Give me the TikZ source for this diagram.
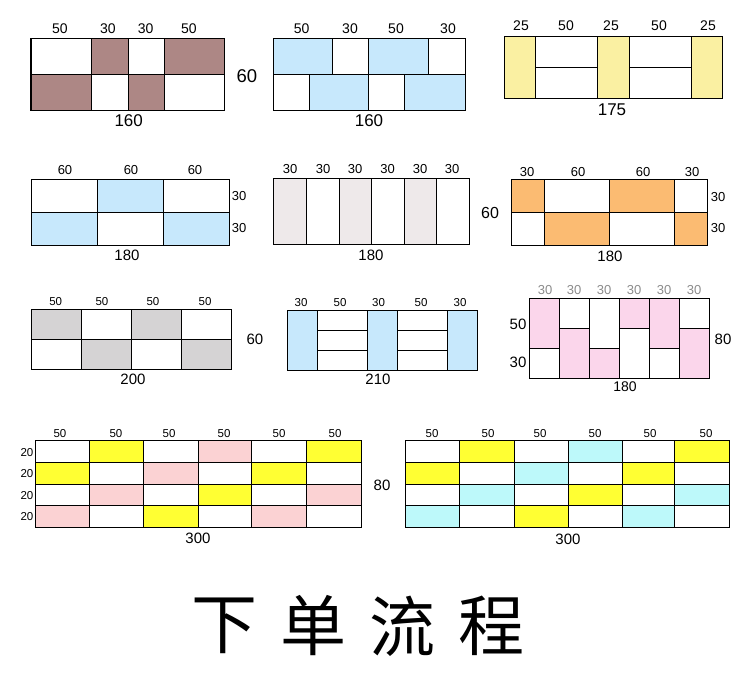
\documentclass[tikz,border=0pt]{standalone}
\usepackage{fontspec}
\setmainfont{Liberation Sans}
\newfontfamily\cjkfont{Noto Sans CJK SC}
\tikzset{
  x=1pt,y=-1pt,
  cellbox/.style={draw=black,line width=1.2pt,fill=white},
  lbl/.style={inner sep=0pt,text=black},
  sa/.style={lbl,font=\fontsize{14}{14}\selectfont},
  sb/.style={lbl,font=\fontsize{13}{13}\selectfont},
  sc/.style={lbl,font=\fontsize{11.5}{12}\selectfont},
  sd/.style={lbl,font=\fontsize{17}{17}\selectfont},
  sh/.style={lbl,font=\fontsize{16}{16}\selectfont},
  se/.style={lbl,font=\fontsize{15}{15}\selectfont},
  sf/.style={lbl,font=\fontsize{18.5}{18.5}\selectfont},
  sg/.style={lbl,font=\fontsize{13}{13}\selectfont,text=black!45},
}
\definecolor{cbrown}{HTML}{AD8785}
\definecolor{cblue}{HTML}{C7E8FC}
\definecolor{cpale}{HTML}{FAF0A2}
\definecolor{cmist}{HTML}{EEE9EA}
\definecolor{corange}{HTML}{FBBB72}
\definecolor{cgray}{HTML}{D5D3D4}
\definecolor{cpink}{HTML}{FBD6EB}
\definecolor{csalmon}{HTML}{FBD2D3}
\definecolor{cyell}{HTML}{FFFF33}
\definecolor{ccyan}{HTML}{BDF9FA}
% \Row{y1}{y2}{x0/x1/colour,...}
\newcommand{\Row}[3]{\foreach \xa/\xb/\cc in {#3}{\draw[cellbox,fill=\cc] (\xa,#1) rectangle (\xb,#2);}}
% \Labels{style}{y}{x/text,...}
\newcommand{\Labels}[3]{\foreach \xa/\tt in {#3}{\node[#1] at (\xa,#2) {\tt};}}
\begin{document}
\begin{tikzpicture}
\useasboundingbox[fill=white] (0,0) rectangle (750,683);
% grid 1
\Row{38.3}{74.3}{31/91.5/white,91.5/128.5/cbrown,128.5/164.5/white,164.5/224.5/cbrown}
\Row{74.3}{110.3}{31/91.5/cbrown,91.5/128.5/white,128.5/164.5/cbrown,164.5/224.5/white}
\Labels{sa}{28.3}{60/50,108/30,145.7/30,189/50}
\node[sd] at (128.7,121) {160};
\node[sf] at (247,76) {60};
% grid 2
\Row{38.3}{74.3}{273.5/332.5/cblue,332.5/368.5/white,368.5/428.5/cblue,428.5/465.5/white}
\Row{74.3}{110.3}{273.5/309.5/white,309.5/368.5/cblue,368.5/404.5/white,404.5/465.5/cblue}
\Labels{sa}{28.3}{301.7/50,350/30,396/50,448/30}
\node[sd] at (369,121) {160};
% grid 3
\Row{36.3}{98.3}{504.3/535.3/cpale,597.3/629.3/cpale,691.3/722.3/cpale}
\Row{36.3}{67.3}{535.3/597.3/white,629.3/691.3/white}
\Row{67.3}{98.3}{535.3/597.3/white,629.3/691.3/white}
\Labels{sa}{26}{521/25,566/50,611/25,659/50,708/25}
\node[sd] at (612,110) {175};
% grid 4
\Row{179.3}{212.3}{31.5/97.5/white,97.5/163.5/cblue,163.5/229.5/white}
\Row{212.3}{245.3}{31.5/97.5/cblue,97.5/163.5/white,163.5/229.5/cblue}
\Labels{sb}{170}{65/60,131/60,195/60}
\node[sb] at (239,196) {30};
\node[sb] at (239,228) {30};
\node[se] at (127,255) {180};
% grid 5
\Row{178.3}{244.3}{273.5/306.5/cmist,306.5/339.5/white,339.5/371.5/cmist,371.5/404.3/white,404.3/436.3/cmist,436.3/469.3/white}
\Labels{sb}{169}{290/30,323/30,355/30,387.5/30,420/30,452/30}
\node[se] at (371,255) {180};
% grid 6
\Row{179.3}{212.3}{511.3/544.3/corange,544.3/609.3/white,609.3/674.3/corange,674.3/707.3/white}
\Row{212.3}{245.3}{511.3/544.3/white,544.3/609.3/corange,609.3/674.3/white,674.3/707.3/corange}
\Labels{sb}{172}{527/30,578/60,643/60,692/30}
\node[sb] at (718,197) {30};
\node[sb] at (718,228) {30};
\node[sh] at (490,212.5) {60};
\node[se] at (610,256) {180};
% grid 7
\Row{309.3}{339.3}{31.3/81.3/cgray,81.3/131.3/white,131.3/181.5/cgray,181.5/231.5/white}
\Row{339.3}{369.3}{31.3/81.3/white,81.3/131.3/cgray,131.3/181.5/white,181.5/231.5/cgray}
\Labels{sc}{302}{55.7/50,102/50,153/50,205/50}
\node[se] at (255,339) {60};
\node[se] at (133,379) {200};
% grid 8
\Row{310.3}{370.3}{287.3/317.3/cblue,367.3/397.3/cblue,447.3/477.3/cblue}
\Row{310.3}{330.3}{317.3/367.3/white,397.3/447.3/white}
\Row{330.3}{350.3}{317.3/367.3/white,397.3/447.3/white}
\Row{350.3}{370.3}{317.3/367.3/white,397.3/447.3/white}
\Labels{sc}{303}{301/30,340/50,378.5/30,421/50,460/30}
\node[se] at (378,379) {210};
% grid 9
\Row{298.3}{348.3}{529.3/559.3/cpink,589.3/619.3/white,649.3/679.3/cpink}
\Row{348.3}{378.3}{529.3/559.3/white,589.3/619.3/cpink,649.3/679.3/white}
\Row{298.3}{328.3}{559.3/589.3/white,619.3/649.3/cpink,679.3/709.3/white}
\Row{328.3}{378.3}{559.3/589.3/cpink,619.3/649.3/white,679.3/709.3/cpink}
\Labels{sg}{290}{545/30,574/30,604/30,634/30,664/30,694/30}
\node[se] at (518,324) {50};
\node[se] at (518,362) {30};
\node[se] at (723,339) {80};
\node[sa] at (625,387) {180};
% grid 10
\Row{440.3}{462.3}{35.3/89.3/white,89.3/143.3/cyell,143.3/198.5/white,198.5/251.5/csalmon,251.5/306.3/white,306.3/361.5/cyell}
\Row{462.3}{484.3}{35.3/89.3/cyell,89.3/143.3/white,143.3/198.5/csalmon,198.5/251.5/white,251.5/306.3/cyell,306.3/361.5/white}
\Row{484.3}{505.3}{35.3/89.3/white,89.3/143.3/csalmon,143.3/198.5/white,198.5/251.5/cyell,251.5/306.3/white,306.3/361.5/csalmon}
\Row{505.3}{527.3}{35.3/89.3/csalmon,89.3/143.3/white,143.3/198.5/cyell,198.5/251.5/white,251.5/306.3/csalmon,306.3/361.5/white}
\Labels{sc}{433.7}{60/50,116/50,169/50,224/50,279/50,335/50}
\node[sc] at (27,452.7) {20};
\node[sc] at (27,474) {20};
\node[sc] at (27,496) {20};
\node[sc] at (27,517) {20};
\node[se] at (198,538.7) {300};
\node[se] at (382,485.7) {80};
% grid 11
\Row{440.3}{462.3}{405.3/459.3/white,459.3/514.3/cyell,514.3/568.3/white,568.3/622.3/ccyan,622.3/674.3/white,674.3/729.3/cyell}
\Row{462.3}{484.3}{405.3/459.3/cyell,459.3/514.3/white,514.3/568.3/ccyan,568.3/622.3/white,622.3/674.3/cyell,674.3/729.3/white}
\Row{484.3}{505.3}{405.3/459.3/white,459.3/514.3/ccyan,514.3/568.3/white,568.3/622.3/cyell,622.3/674.3/white,674.3/729.3/ccyan}
\Row{505.3}{527.3}{405.3/459.3/ccyan,459.3/514.3/white,514.3/568.3/cyell,568.3/622.3/white,622.3/674.3/ccyan,674.3/729.3/white}
\Labels{sc}{433.7}{432/50,488/50,540/50,595/50,650/50,706/50}
\node[se] at (568,539) {300};
% title
\foreach \xa/\tt in {224/下,313/单,402/流,491/程}{\node[lbl,font=\cjkfont\fontsize{66}{66}\selectfont] at (\xa,626) {\tt};}
\end{tikzpicture}
\end{document}
